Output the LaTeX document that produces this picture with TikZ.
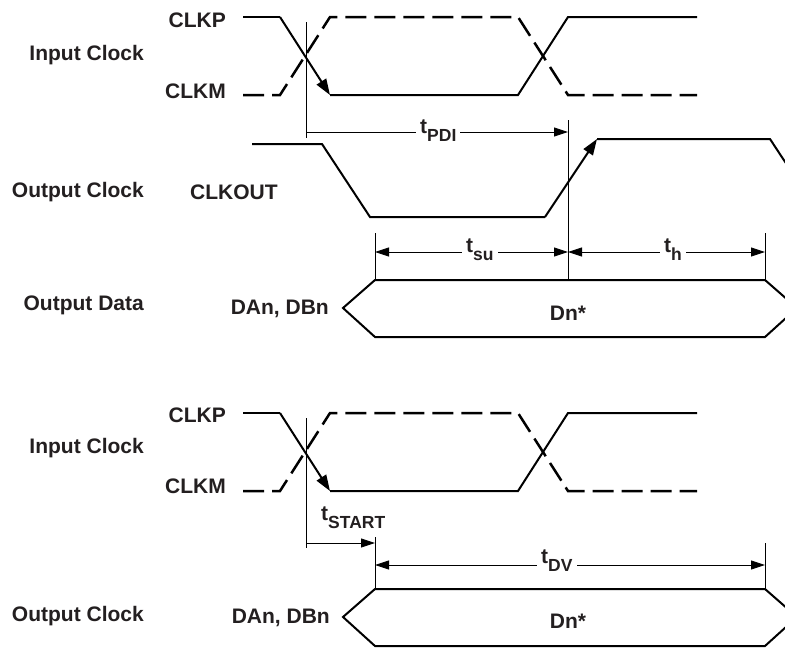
\documentclass[tikz,border=0pt]{standalone}
\usepackage{fontspec}
\setmainfont{Liberation Sans}
\usetikzlibrary{arrows.meta}
\definecolor{txt}{HTML}{231F20}
\newcommand{\tsub}[1]{t\raisebox{-8pt}{\fontsize{17.5}{19}\selectfont #1}}
\tikzset{
  sig/.style={line width=2pt, line join=miter, line cap=butt},
  dsig/.style={line width=2.5pt, line join=miter, dash pattern=on 21pt off 8pt},
  thinl/.style={line width=0.9pt},
  lbl/.style={font=\bfseries\fontsize{21}{24}\selectfont, text=txt, inner sep=0pt},
  tlbl/.style={lbl, fill=white, inner xsep=4pt, inner ysep=1pt},
  sigtip/.style={-{Triangle[length=16pt,width=11pt]}},
  dimR/.style={thinl, -{Triangle[length=14pt,width=9pt]}},
  dimB/.style={thinl, {Triangle[length=14pt,width=9pt]}-{Triangle[length=14pt,width=9pt]}},
}
\begin{document}
\begin{tikzpicture}[x=1pt,y=-1pt]
\clip (0,0) rectangle (785,649);
\fill[white] (0,0) rectangle (785,649);

% ---------- left labels ----------
\node[lbl, anchor=base east] (ic1) at (144,60) {Input Clock};
\node[lbl, anchor=base east] (p1) at (226,27) {CLKP};
\node[lbl, anchor=base east] (m1) at (226,98) {CLKM};
\node[lbl, anchor=base east] (oc1) at (144,197) {Output Clock};
\node[lbl, anchor=base west] (co) at (190,199) {CLKOUT};
\node[lbl, anchor=base east] (od) at (144,310) {Output Data};
\node[lbl, anchor=base east] (da1) at (329,314) {DAn, DBn};
\node[lbl, anchor=base] (dn1) at (568,320) {Dn*};

\node[lbl, anchor=base east] (ic2) at (144,453) {Input Clock};
\node[lbl, anchor=base east] (p2) at (226,422) {CLKP};
\node[lbl, anchor=base east] (m2) at (226,493) {CLKM};
\node[lbl, anchor=base east] (oc2) at (144,621) {Output Clock};
\node[lbl, anchor=base east] (da2) at (330,623) {DAn, DBn};
\node[lbl, anchor=base] (dn2) at (568,628) {Dn*};

% ---------- input clocks ----------
\foreach \o in {0,396}{
  \draw[sig] (243,17+\o) -- (280,17+\o);
  \draw[sig, sigtip] (280,17+\o) -- (330,95+\o);
  \draw[sig] (330,95+\o) -- (518,95+\o) -- (568,17+\o) -- (697,17+\o);
  \draw[dsig] (243,95+\o) -- (280,95+\o) -- (330,17+\o) -- (518,17+\o) -- (568,95+\o) -- (697,95+\o);
}

% ---------- output clock ----------
\draw[sig] (252,144) -- (322,144) -- (370,217) -- (545,217);
\draw[sig, sigtip] (545,217) -- (597,139);
\draw[sig] (597,139) -- (770,139) -- (818,212);

% ---------- data boxes ----------
\foreach \o in {0,309}{
  \draw[sig] (375,280+\o) -- (765,280+\o) -- (797,308+\o) -- (765,337+\o)
    -- (375,337+\o) -- (343,308+\o) -- cycle;
}

% ---------- reference lines (top) ----------
\coordinate (v1a) at (306,22);  \coordinate (v1b) at (306,138);
\coordinate (v2a) at (568,120); \coordinate (v2b) at (568,280);
\coordinate (v3a) at (375,233); \coordinate (v3b) at (375,280);
\coordinate (v4a) at (765,233); \coordinate (v4b) at (765,280);
\draw[thinl] (v1a) -- (v1b);
\draw[thinl] (v2a) -- (v2b);
\draw[thinl] (v3a) -- (v3b);
\draw[thinl] (v4a) -- (v4b);

\coordinate (pdiL) at (306,132); \coordinate (pdiR) at (568,132);
\draw[dimR] (pdiL) -- (pdiR);
\node[tlbl, anchor=base west] (tpdi) at (416,133) {\tsub{PDI}};

\coordinate (suL) at (375,252); \coordinate (suR) at (568,252);
\coordinate (hR) at (765,252);
\draw[dimB] (suL) -- (suR);
\draw[dimB] (suR) -- (hR);
\node[tlbl, anchor=base west] (tsu) at (462,252) {\tsub{su}};
\node[tlbl, anchor=base west] (th) at (660,252) {\tsub{h}};

% ---------- reference lines (bottom) ----------
\coordinate (w1a) at (306,418); \coordinate (w1b) at (306,548);
\coordinate (w2a) at (375,537); \coordinate (w2b) at (375,589);
\coordinate (w3a) at (765,543); \coordinate (w3b) at (765,589);
\draw[thinl] (w1a) -- (w1b);
\draw[thinl] (w2a) -- (w2b);
\draw[thinl] (w3a) -- (w3b);

\coordinate (stL) at (306,543); \coordinate (stR) at (375,543);
\draw[dimR] (stL) -- (stR);
\node[lbl, anchor=base west] (tst) at (321,520) {\tsub{START}};

\coordinate (dvL) at (375,565); \coordinate (dvR) at (765,565);
\draw[dimB] (dvL) -- (dvR);
\node[tlbl, anchor=base west] (tdv) at (537,563) {\tsub{DV}};
\end{tikzpicture}
\end{document}
